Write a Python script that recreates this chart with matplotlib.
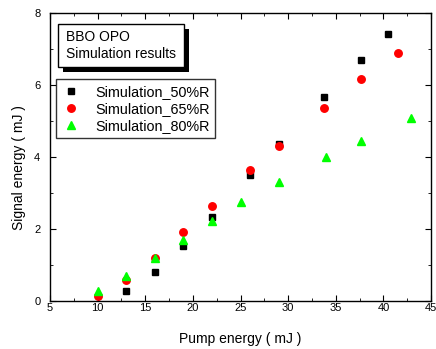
import matplotlib.pyplot as plt
from matplotlib.ticker import MultipleLocator
from matplotlib.patches import Rectangle

plt.rcParams['font.family'] = ['Liberation Sans', 'DejaVu Sans']

x50 = [13, 16, 19, 22, 26, 29, 33.8, 37.6, 40.5]
y50 = [0.28, 0.81, 1.53, 2.33, 3.51, 4.36, 5.67, 6.69, 7.40]

x65 = [10, 13, 16, 19, 22, 26, 29, 33.8, 37.6, 41.5]
y65 = [0.15, 0.58, 1.20, 1.91, 2.65, 3.64, 4.31, 5.37, 6.15, 6.88]

x80 = [10, 13, 16, 19, 22, 25.1, 29, 34, 37.6, 42.9]
y80 = [0.28, 0.69, 1.20, 1.69, 2.22, 2.74, 3.31, 4.00, 4.45, 5.07]

fig = plt.figure(figsize=(4.36, 3.49), dpi=100)
ax = fig.add_axes([0.1147, 0.1375, 0.874, 0.826])

ax.plot(x50, y50, 's', color='black', ms=4.8, label='Simulation_50%R')
ax.plot(x65, y65, 'o', color='red', ms=5.4, label='Simulation_65%R')
ax.plot(x80, y80, '^', color='#00ff00', ms=5.8, label='Simulation_80%R')

ax.set_xlim(5, 45)
ax.set_ylim(0, 8)
ax.xaxis.set_major_locator(MultipleLocator(5))
ax.xaxis.set_minor_locator(MultipleLocator(2.5))
ax.yaxis.set_major_locator(MultipleLocator(2))
ax.yaxis.set_minor_locator(MultipleLocator(1))
ax.tick_params(which='both', direction='in', top=True, right=True, labelsize=8)
ax.tick_params(axis='x', pad=1.5)
ax.tick_params(axis='y', pad=7)
ax.tick_params(which='major', length=4)
ax.tick_params(which='minor', length=2.5)
for s in ax.spines.values():
    s.set_linewidth(1.0)

ax.set_xlabel('Pump energy ( mJ )', fontsize=10)
ax.xaxis.set_label_coords(0.5, -0.1075)
ax.set_ylabel('Signal energy ( mJ )', fontsize=10)
ax.yaxis.label.set_va('center')
ax.yaxis.set_label_coords(-0.081, 0.463)

# text box with drop shadow
bx0, bx1, by0, by1 = 0.022, 0.3525, 0.8116, 0.961
ax.add_patch(Rectangle((bx0 + 0.0123, by0 - 0.0163), bx1 - bx0, by1 - by0,
                       transform=ax.transAxes, facecolor='black', edgecolor='none',
                       zorder=5))
ax.add_patch(Rectangle((bx0, by0), bx1 - bx0, by1 - by0, transform=ax.transAxes,
                       facecolor='white', edgecolor='black', linewidth=1.0, zorder=6))
ax.text(0.042, 0.917, 'BBO OPO', transform=ax.transAxes, fontsize=10,
        va='center', ha='left', zorder=7)
ax.text(0.042, 0.8557, 'Simulation results', transform=ax.transAxes, fontsize=10,
        va='center', ha='left', zorder=7)

leg = ax.legend(loc='upper left', bbox_to_anchor=(0.0157, 0.770), fontsize=10.4,
                frameon=True, fancybox=False, edgecolor='black', borderpad=0.4,
                handletextpad=1.0, labelspacing=0.2, handlelength=1.3,
                borderaxespad=0)
leg.get_frame().set_linewidth(1.0)

fig.savefig('out.png', dpi=100)
